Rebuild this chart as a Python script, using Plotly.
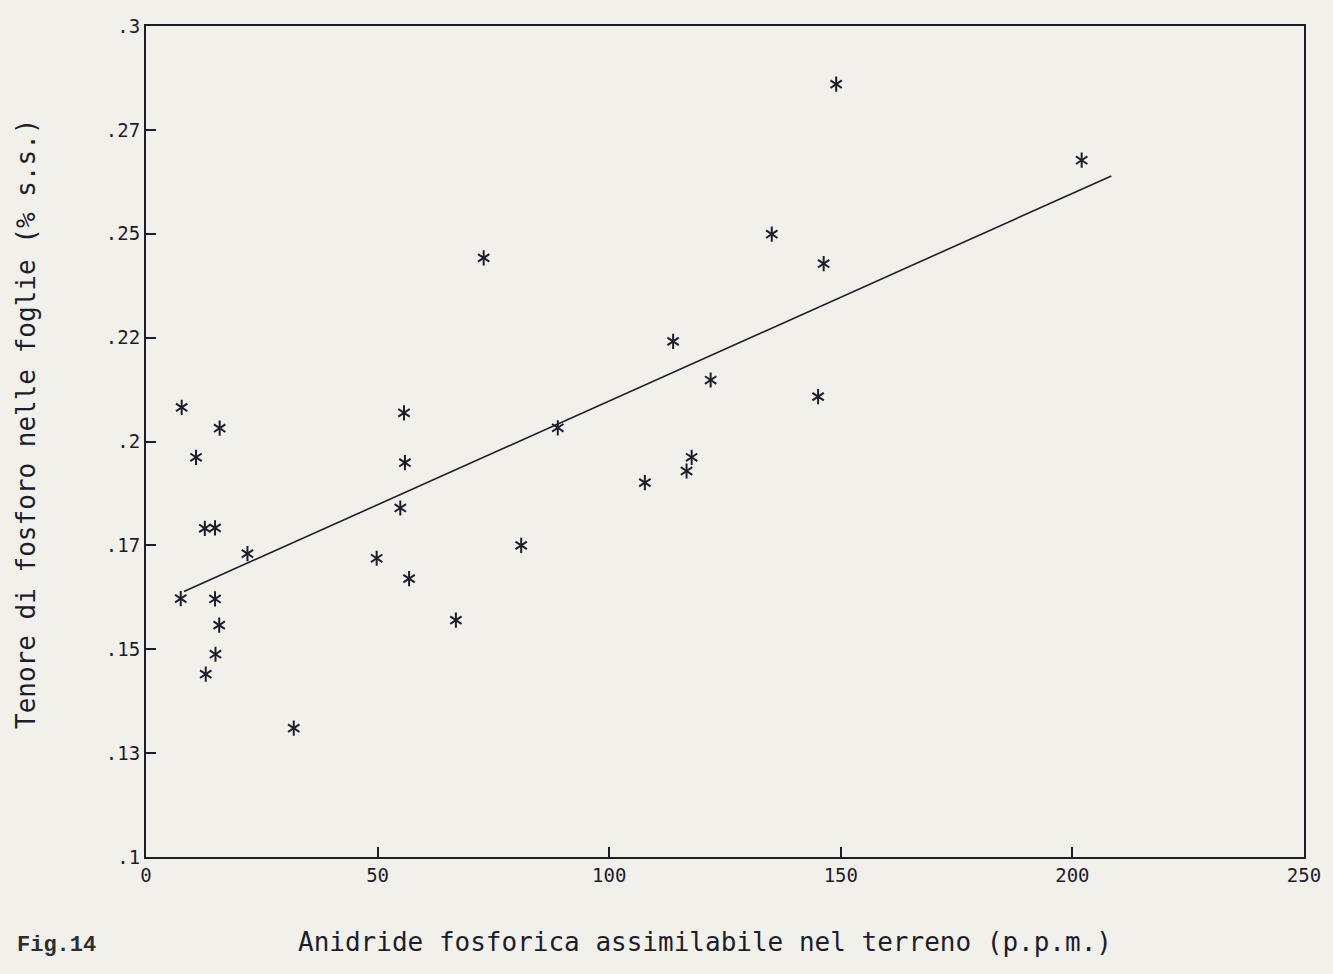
import plotly.graph_objects as go

# Data (x: P2O5 assimilabile, p.p.m.; y: P in foglie, % s.s.)
soil_p = [7.7, 7.5, 10.8, 15.9, 12.7, 14.9, 21.9, 14.9, 15.8, 15.0, 12.9, 31.9,
          55.7, 55.9, 54.9, 49.8, 56.8, 66.9, 81.0, 88.9, 72.9, 107.7, 113.8,
          121.9, 116.7, 117.8, 145.1, 135.1, 146.3, 149.0, 202.0]
leaf_p = [0.2082, 0.1622, 0.1962, 0.2032, 0.1791, 0.1792, 0.1730, 0.1621, 0.1558,
          0.1488, 0.1440, 0.1310, 0.2069, 0.1949, 0.1840, 0.1719, 0.1670, 0.1570,
          0.1750, 0.2033, 0.2442, 0.1901, 0.2241, 0.2148, 0.1929, 0.1962, 0.2108,
          0.2499, 0.2428, 0.2860, 0.2677]

# Regression line end points (as drawn)
fit_x = [8.2, 208.4]
fit_y = [0.1639, 0.2639]

x_tickvals = [0, 50, 100, 150, 200, 250]
x_ticktext = ["0", "50", "100", "150", "200", "250"]
y_tickvals = [0.1, 0.125, 0.15, 0.175, 0.2, 0.225, 0.25, 0.275, 0.3]
y_ticktext = [".1", ".13", ".15", ".17", ".2", ".22", ".25", ".27", ".3"]

INK = "#1d1d2b"
PAPER = "#f2f0eb"
MONO = "DejaVu Sans Mono"

L, R, T, B = 146, 29, 26, 117
W, H = 1333, 974
PW, PH = W - L - R, H - T - B

fig = go.Figure()
for sym in ["y-up-open", "y-down-open"]:
    fig.add_trace(go.Scatter(
        x=soil_p, y=leaf_p, mode="markers",
        marker=dict(symbol=sym, size=9.5, color=INK,
                    line=dict(color=INK, width=2)),
        showlegend=False, hoverinfo="x+y"))

fig.add_trace(go.Scatter(
    x=fit_x, y=fit_y, mode="lines",
    line=dict(color=INK, width=1.6), showlegend=False))

axis_common = dict(
    showline=True, mirror=True, linecolor=INK, linewidth=2,
    showgrid=False, zeroline=False,
    ticks="inside", ticklen=10, tickwidth=1.5, tickcolor=INK,
    tickfont=dict(family=MONO, size=19, color=INK),
    ticklabelstandoff=0,
)

fig.update_layout(
    width=W, height=H,
    margin=dict(l=L, r=R, t=T, b=B),
    paper_bgcolor=PAPER, plot_bgcolor=PAPER,
    xaxis=dict(range=[0, 250], tickvals=x_tickvals, ticktext=x_ticktext,
               **axis_common),
    yaxis=dict(range=[0.1, 0.3], tickvals=y_tickvals, ticktext=y_ticktext,
               **axis_common),
    annotations=[
        dict(text="Anidride fosforica assimilabile nel terreno (p.p.m.)",
             xref="paper", yref="paper", x=(705 - L) / PW,
             y=-(942 - (H - B)) / PH, xanchor="center", yanchor="middle",
             showarrow=False, font=dict(family=MONO, size=26, color=INK)),
        dict(text="Tenore di fosforo nelle foglie (% s.s.)",
             xref="paper", yref="paper", x=-(L - 26) / PW,
             y=((H - B) - 424) / PH, xanchor="center", yanchor="middle",
             textangle=-90, showarrow=False,
             font=dict(family=MONO, size=26, color=INK)),
        dict(text="Fig.14", xref="paper", yref="paper",
             x=-(L - 15) / PW, y=-(945 - (H - B)) / PH,
             xanchor="left", yanchor="middle", showarrow=False,
             font=dict(family="Liberation Mono", size=22, color="#2e2e2e",
                       weight="bold")),
    ],
)

fig.write_html("out.html")
